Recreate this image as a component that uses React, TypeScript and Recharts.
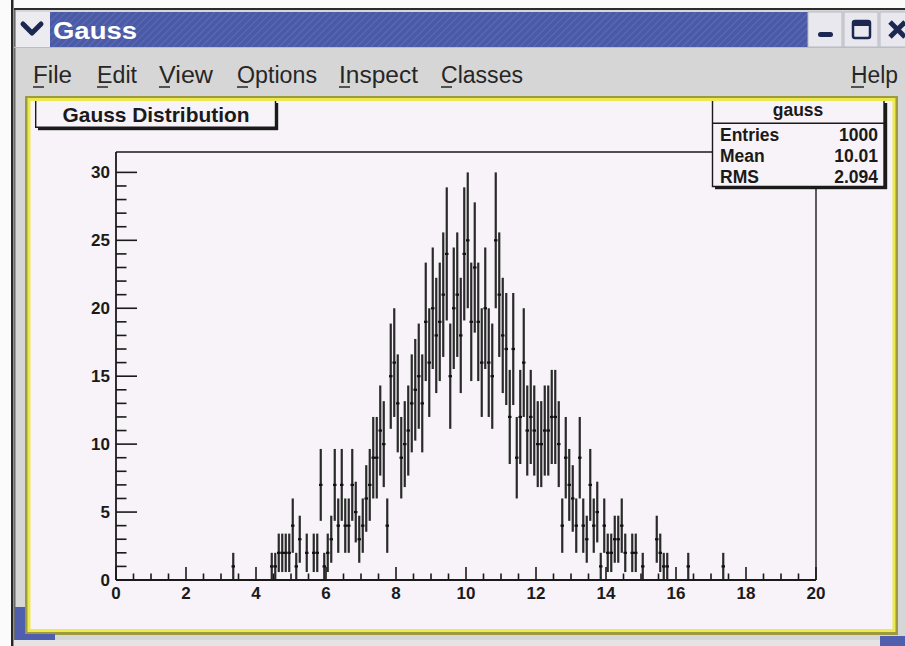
import React from 'react';
import { ScatterChart, Scatter, XAxis, YAxis, ErrorBar, ReferenceLine } from 'recharts';

// Histogram "gauss": 200 bins from 0 to 20
const binLow = 0;
const binWidth = 0.1;
const counts: number[] = [
  0, 0, 0, 0, 0, 0, 0, 0, 0, 0, 0, 0, 0, 0, 0, 0, 0, 0, 0, 0,
  0, 0, 0, 0, 0, 0, 0, 0, 0, 0, 0, 0, 0, 1, 0, 0, 0, 0, 0, 0,
  0, 0, 0, 0, 1, 1, 2, 2, 2, 2, 4, 1, 3, 0, 2, 0, 2, 2, 7, 1,
  2, 3, 7, 4, 7, 4, 4, 7, 5, 3, 4, 6, 7, 9, 9, 11, 10, 4, 15, 16,
  13, 9, 10, 11, 13, 14, 15, 13, 19, 16, 20, 18, 19, 21, 24, 15, 20, 21, 18, 24,
  25, 19, 23, 19, 16, 20, 16, 15, 25, 21, 18, 17, 12, 17, 9, 12, 16, 11, 12, 11,
  10, 10, 11, 11, 12, 12, 10, 4, 9, 7, 6, 4, 9, 4, 3, 7, 4, 5, 1, 4,
  2, 2, 3, 3, 4, 2, 0, 2, 2, 0, 1, 0, 0, 0, 3, 2, 1, 1, 0, 0,
  0, 0, 0, 1, 0, 0, 0, 0, 0, 0, 0, 0, 0, 1, 0, 0, 0, 0, 0, 0,
  0, 0, 0, 0, 0, 0, 0, 0, 0, 0, 0, 0, 0, 0, 0, 0, 0, 0, 0, 0,
];

const xDomain: [number, number] = [0, 20];
const yDomain: [number, number] = [0, 31.5];
const xTicks = [0, 0.5, 1, 1.5, 2, 2.5, 3, 3.5, 4, 4.5, 5, 5.5, 6, 6.5, 7, 7.5, 8, 8.5, 9, 9.5, 10,
  10.5, 11, 11.5, 12, 12.5, 13, 13.5, 14, 14.5, 15, 15.5, 16, 16.5, 17, 17.5, 18, 18.5, 19, 19.5, 20];
const xLabelTicks = [0, 2, 4, 6, 8, 10, 12, 14, 16, 18, 20];
const yTicks = [0, 1, 2, 3, 4, 5, 6, 7, 8, 9, 10, 11, 12, 13, 14, 15, 16, 17, 18, 19, 20,
  21, 22, 23, 24, 25, 26, 27, 28, 29, 30];
const yLabelTicks = [0, 5, 10, 15, 20, 25, 30];

const windowTitle = 'Gauss';
const histTitle = 'Gauss Distribution';
const statsName = 'gauss';
const statsLabels = ['Entries', 'Mean', 'RMS'];
const statsValues = ['1000', '10.01', '2.094'];
const menuLabels = ['File', 'Edit', 'View', 'Options', 'Inspect', 'Classes'];
const helpLabel = 'Help';

const points = counts
  .map((c, i) => ({
    x: binLow + (i + 0.5) * binWidth,
    y: c,
    ey: Math.sqrt(c),
    ex: binWidth / 2,
  }))
  .filter((p) => p.y > 0);

const FONT = '"Liberation Sans", Arial, Helvetica, sans-serif';
const CANVAS_BG = '#f7f3f8';
const INK = '#1a1a1a';

const XTick = (props: any) => {
  const { x, y, payload } = props;
  const v = payload.value;
  const major = xLabelTicks.includes(v);
  return (
    <g>
      <line x1={x} x2={x} y1={y} y2={y - (major ? 13 : 6.5)} stroke={INK} strokeWidth={1.6} />
      {major && (
        <text x={x} y={y + 19} textAnchor="middle" fontFamily={FONT} fontWeight="bold" fontSize={17} fill={INK}>
          {v}
        </text>
      )}
    </g>
  );
};

const YTick = (props: any) => {
  const { x, y, payload } = props;
  const v = payload.value;
  const major = yLabelTicks.includes(v);
  return (
    <g>
      <line x1={x} x2={x + (major ? 21 : 10.5)} y1={y} y2={y} stroke={INK} strokeWidth={1.6} />
      {major && (
        <text x={x - 6} y={y + 6} textAnchor="end" fontFamily={FONT} fontWeight="bold" fontSize={17} fill={INK}>
          {v}
        </text>
      )}
    </g>
  );
};

const NoShape = () => <g />;

// window chrome geometry (decoration only)
const menuPos = [
  { x: 33, w: 39 },
  { x: 97, w: 40 },
  { x: 159, w: 54 },
  { x: 237, w: 80 },
  { x: 339, w: 79 },
  { x: 441, w: 82 },
];

const Chrome = () => (
  <svg width={905} height={646} style={{ position: 'absolute', left: 0, top: 0 }}>
    <defs>
      <pattern id="stripes" width="5" height="5" patternUnits="userSpaceOnUse" patternTransform="rotate(45)">
        <rect width="5" height="5" fill="#4b5aa6" />
        <line x1="0" y1="0" x2="0" y2="5" stroke="#6070b8" strokeWidth="1.6" />
      </pattern>
    </defs>
    <rect x={0} y={0} width={905} height={646} fill="#fbfbfb" />
    <rect x={11} y={0} width={2.5} height={646} fill="#262626" />
    <rect x={14} y={8} width={891} height={2} fill="#2c2c2c" />
    <rect x={14} y={10} width={891} height={630} fill="#d6d6d6" />
    <rect x={14} y={10} width={1.5} height={630} fill="#6a6a6a" />
    {/* title bar */}
    <rect x={50} y={12} width={758} height={35} fill="url(#stripes)" />
    <rect x={16} y={12} width={34} height={35} fill="#ececf0" />
    <polyline points="23,24 32,33 41,24" fill="none" stroke="#1c2852" strokeWidth={5} strokeLinecap="round" strokeLinejoin="round" />
    <text x={53} y={39} fontFamily={FONT} fontWeight="bold" fontSize={23} fill="#ffffff" textLength={84} lengthAdjust="spacingAndGlyphs">
      {windowTitle}
    </text>
    <rect x={808} y={12} width={34} height={35} fill="#e8e8ee" stroke="#b8b8c4" strokeWidth={1} />
    <rect x={844} y={12} width={34} height={35} fill="#e8e8ee" stroke="#b8b8c4" strokeWidth={1} />
    <rect x={880} y={12} width={30} height={35} fill="#e8e8ee" stroke="#b8b8c4" strokeWidth={1} />
    <rect x={818} y={32} width={15} height={5} rx={2.5} fill="#1c2852" />
    <rect x={853} y={21} width={17} height={17} rx={2} fill="none" stroke="#1c2852" strokeWidth={2.5} />
    <rect x={853} y={21} width={17} height={5} fill="#1c2852" />
    <line x1={890} y1={22} x2={905} y2={37} stroke="#1c2852" strokeWidth={5} />
    <line x1={905} y1={22} x2={890} y2={37} stroke="#1c2852" strokeWidth={5} />
    <rect x={14} y={47} width={891} height={1} fill="#bdbdbd" />
    {/* menu */}
    {menuLabels.map((m, i) => (
      <g key={m}>
        <text x={menuPos[i].x} y={82.5} fontFamily={FONT} fontSize={23} fill="#262626" textLength={menuPos[i].w} lengthAdjust="spacingAndGlyphs">
          {m}
        </text>
        <line x1={menuPos[i].x} x2={menuPos[i].x + 11} y1={87} y2={87} stroke="#262626" strokeWidth={1.5} />
      </g>
    ))}
    <text x={851} y={82.5} fontFamily={FONT} fontSize={23} fill="#262626" textLength={47} lengthAdjust="spacingAndGlyphs">
      {helpLabel}
    </text>
    <line x1={851} x2={864} y1={87} y2={87} stroke="#262626" strokeWidth={1.5} />
    {/* canvas with yellow border */}
    <rect x={25} y={96} width={873} height={539} fill="#9e9a3e" />
    <rect x={27.5} y={98} width={868} height={534} fill="#ecea4e" />
    <rect x={30.5} y={101} width={862} height={528} fill={CANVAS_BG} />
    {/* bits of the window behind */}
    <rect x={15} y={607} width={10} height={33} fill="#4f5fae" />
    <rect x={15} y={634} width={40} height={8} fill="#4f5fae" />
    <rect x={14} y={640} width={891} height={6} fill="#e4e4e4" />
    <rect x={880} y={636} width={25} height={10} fill="#4f5fae" />
  </svg>
);

const Overlay = () => (
  <svg width={905} height={646} style={{ position: 'absolute', left: 0, top: 0, pointerEvents: 'none' }}>
    {/* histogram title pave */}
    <rect x={35} y={101} width={241} height={26} fill={CANVAS_BG} />
    <path d="M35.7 101 V127.3 H275.5 V101" fill="none" stroke={INK} strokeWidth={1.4} />
    <rect x={38} y={127} width={240} height={3.2} fill={INK} />
    <rect x={275} y={103} width={3.2} height={27} fill={INK} />
    <text x={156} y={122} textAnchor="middle" fontFamily={FONT} fontWeight="bold" fontSize={20.5} fill={INK} textLength={187} lengthAdjust="spacingAndGlyphs">
      {histTitle}
    </text>
    {/* stats box */}
    <rect x={712} y={101} width={172} height={86} fill={CANVAS_BG} />
    <path d="M712.5 101 V186.5 H884 V101" fill="none" stroke={INK} strokeWidth={1.4} />
    <rect x={715} y={186} width={172} height={3.2} fill={INK} />
    <rect x={884} y={103} width={3.2} height={86} fill={INK} />
    <line x1={712} x2={885} y1={123.3} y2={123.3} stroke={INK} strokeWidth={1.4} />
    <text x={798} y={116} textAnchor="middle" fontFamily={FONT} fontWeight="bold" fontSize={17.5} fill={INK}>
      {statsName}
    </text>
    {statsLabels.map((l, i) => (
      <g key={l}>
        <text x={720} y={141 + i * 21} fontFamily={FONT} fontWeight="bold" fontSize={17.5} fill={INK}>
          {l}
        </text>
        <text x={878} y={141 + i * 21} textAnchor="end" fontFamily={FONT} fontWeight="bold" fontSize={17.5} fill={INK}>
          {statsValues[i]}
        </text>
      </g>
    ))}
  </svg>
);

export default function App() {
  return (
    <div style={{ position: 'absolute', left: 0, top: 0, width: 905, height: 646, overflow: 'hidden' }}>
      <Chrome />
      <div style={{ position: 'absolute', left: 0, top: 0 }}>
        <ScatterChart width={905} height={646} margin={{ top: 152, right: 89, bottom: 65, left: 115 }}>
          <XAxis
            type="number"
            dataKey="x"
            domain={xDomain}
            ticks={xTicks}
            interval={0}
            allowDataOverflow
            height={1}
            tickSize={0}
            tickMargin={0}
            tickLine={false}
            axisLine={{ stroke: INK, strokeWidth: 1.8 }}
            tick={<XTick />}
          />
          <YAxis
            type="number"
            dataKey="y"
            domain={yDomain}
            ticks={yTicks}
            interval={0}
            allowDataOverflow
            width={1}
            tickSize={0}
            tickMargin={0}
            tickLine={false}
            axisLine={{ stroke: INK, strokeWidth: 1.8 }}
            tick={<YTick />}
          />
          <ReferenceLine y={yDomain[1]} stroke={INK} strokeWidth={1.4} ifOverflow="extendDomain" />
          <ReferenceLine x={xDomain[1]} stroke={INK} strokeWidth={1.4} ifOverflow="extendDomain" />
          <Scatter data={points} shape={<NoShape />} isAnimationActive={false}>
            <ErrorBar dataKey="ey" direction="y" width={0} stroke="#2a2a2a" strokeWidth={2.2} isAnimationActive={false} />
            <ErrorBar dataKey="ex" direction="x" width={0} stroke="#111111" strokeWidth={2.2} isAnimationActive={false} />
          </Scatter>
        </ScatterChart>
      </div>
      <Overlay />
    </div>
  );
}
